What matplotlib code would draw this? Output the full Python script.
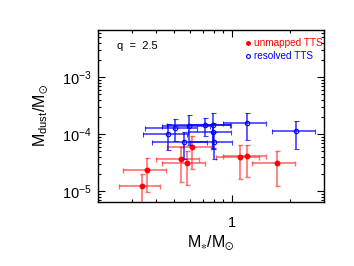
import matplotlib
matplotlib.use('Agg')
import matplotlib.pyplot as plt
import numpy as np

# unmapped TTS (red, filled)
red_x = [0.339, 0.360, 0.538, 0.578, 0.618, 1.10, 1.20, 1.70]
red_xerr = [0.083, 0.09, 0.135, 0.147, 0.16, 0.28, 0.30, 0.43]
red_y = [1.25e-5, 2.41e-5, 3.76e-5, 3.2e-5, 6.0e-5, 4.07e-5, 4.18e-5, 3.16e-5]
red_yerr = [0.78e-5, 1.45e-5, 2.3e-5, 1.9e-5, 3.5e-5, 2.4e-5, 2.4e-5, 1.9e-5]

# resolved TTS (blue, open)
blue_x = [2.15, 1.20, 0.462, 0.503, 0.596, 0.562, 0.79, 0.79, 0.80, 0.717]
blue_xerr = [0.54, 0.30, 0.12, 0.15, 0.165, 0.18, 0.2, 0.2, 0.2, 0.26]
blue_y = [1.13e-4, 1.56e-4, 1.01e-4, 1.31e-4, 1.40e-4, 7.35e-5, 1.44e-4, 1.08e-4, 7.35e-5, 1.45e-4]
blue_yerr = [0.58e-4, 0.78e-4, 0.48e-4, 0.56e-4, 0.75e-4, 0.36e-4, 0.88e-4, 0.5e-4, 0.37e-4, 0.5e-4]

plt.rcParams['font.family'] = ['Liberation Sans', 'DejaVu Sans']

fig = plt.figure(figsize=(3.54, 2.66), dpi=100)
ax = fig.add_axes([0.277, 0.242, 0.638, 0.645])

ax.errorbar(red_x, red_y, xerr=red_xerr, yerr=red_yerr, fmt='o', color='red',
            ms=3.2, ecolor=(1, 0.2, 0.2, 0.7), elinewidth=1.2, capsize=1.8,
            capthick=1.0, zorder=3)
ax.errorbar(blue_x, blue_y, xerr=blue_xerr, yerr=blue_yerr, fmt='o', color='blue',
            mfc='none', mec='blue', mew=0.8, ms=3.2, ecolor=(0, 0, 1, 0.75),
            elinewidth=1.2, capsize=1.8, capthick=1.0, zorder=4)

ax.set_xscale('log')
ax.set_yscale('log')
ax.set_xlim(0.2, 3.0)
ax.set_ylim(6.6e-6, 6.7e-3)

ax.xaxis.set_major_locator(matplotlib.ticker.FixedLocator([1]))
ax.xaxis.set_major_formatter(matplotlib.ticker.FixedFormatter(['1']))
ax.xaxis.set_minor_locator(matplotlib.ticker.LogLocator(base=10, subs=np.arange(2, 10)))
ax.xaxis.set_minor_formatter(matplotlib.ticker.NullFormatter())
ax.yaxis.set_major_locator(matplotlib.ticker.FixedLocator([1e-5, 1e-4, 1e-3]))
ax.yaxis.set_minor_locator(matplotlib.ticker.LogLocator(base=10, subs=np.arange(2, 10)))
ax.yaxis.set_minor_formatter(matplotlib.ticker.NullFormatter())

ax.tick_params(which='both', direction='in', top=True, right=True, labelsize=10.5,
               width=0.8)
ax.tick_params(which='major', length=5)
ax.tick_params(which='minor', length=2.5)
ax.tick_params(axis='x', which='major', pad=10)
ax.tick_params(axis='y', which='major', pad=4.5)
for s in ax.spines.values():
    s.set_linewidth(1.0)

ax.set_xlabel(r'$\mathregular{M_{\ast}/M_{\odot}}$', fontsize=11.5, labelpad=3)
ax.set_ylabel(r'$\mathregular{M_{dust}/M_{\odot}}$', fontsize=11.5, labelpad=8)

ax.text(0.085, 0.89, 'q  =  2.5', transform=ax.transAxes, fontsize=8, color='black')
ax.plot([0.665], [0.925], 'o', color='red', ms=2.5, transform=ax.transAxes, clip_on=False)
ax.text(0.69, 0.925, 'unmapped TTS', transform=ax.transAxes, fontsize=7.2, color='red',
        va='center')
ax.plot([0.665], [0.848], 'o', mfc='none', mec='blue', mew=0.8, ms=2.8,
        transform=ax.transAxes, clip_on=False)
ax.text(0.69, 0.848, 'resolved TTS', transform=ax.transAxes, fontsize=7.2, color='blue',
        va='center')

fig.savefig('out.png', dpi=100)
